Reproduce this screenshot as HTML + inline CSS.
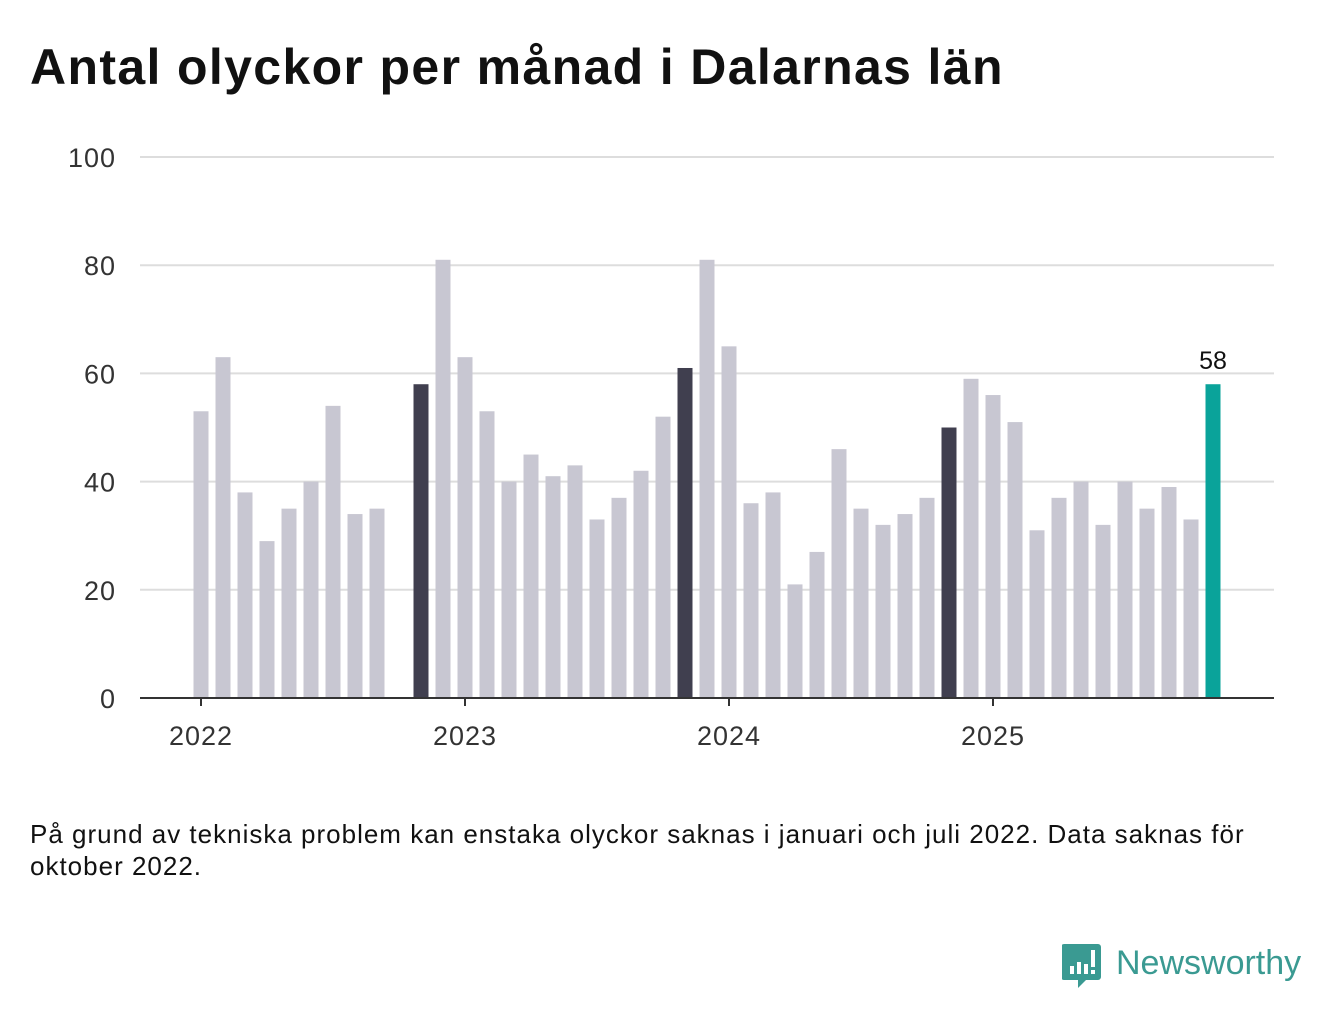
<!DOCTYPE html>
<html><head><meta charset="utf-8">
<style>
body{margin:0;background:#fff;width:1340px;height:1020px;overflow:hidden;font-family:"Liberation Sans",sans-serif;}
#title{position:absolute;left:30px;top:38px;font-size:50px;font-weight:bold;color:#111;letter-spacing:1.35px}
#note{position:absolute;left:30px;top:818px;font-size:26px;color:#111;line-height:32px;width:1215px;letter-spacing:1px}
#logo{position:absolute;left:1062px;top:942px}
</style></head><body>
<div id="title">Antal olyckor per månad i Dalarnas län</div>
<svg id="chart" width="1340" height="1020" style="position:absolute;left:0;top:0"></svg>
<div id="note">På grund av tekniska problem kan enstaka olyckor saknas i januari och juli 2022. Data saknas för oktober 2022.</div>
<svg id="logo" width="250" height="50">
<path d="M2 2 h34 a3 3 0 0 1 3 3 v30 a3 3 0 0 1 -3 3 h-12 l-8 8 v-8 h-14 a3 3 0 0 1 -3 -3 v-30 a3 3 0 0 1 3 -3z" fill="#3a9a92"/>
<rect x="8" y="24" width="4" height="8" fill="#fff"/><rect x="15" y="20" width="4" height="12" fill="#fff"/><rect x="22" y="22" width="4" height="10" fill="#fff"/><rect x="29" y="8" width="4" height="17" fill="#fff"/><rect x="29" y="28" width="4" height="4" fill="#fff"/>
<text x="54" y="32" font-size="34" fill="#3a9a92" font-family="Liberation Sans, sans-serif">Newsworthy</text>
</svg>
<script>
const months = ["2022-01","2022-02","2022-03","2022-04","2022-05","2022-06","2022-07","2022-08","2022-09","2022-10","2022-11","2022-12","2023-01","2023-02","2023-03","2023-04","2023-05","2023-06","2023-07","2023-08","2023-09","2023-10","2023-11","2023-12","2024-01","2024-02","2024-03","2024-04","2024-05","2024-06","2024-07","2024-08","2024-09","2024-10","2024-11","2024-12","2025-01","2025-02","2025-03","2025-04","2025-05","2025-06","2025-07","2025-08","2025-09","2025-10","2025-11"];
const values = [53,63,38,29,35,40,54,34,35,null,58,81,63,53,40,45,41,43,33,37,42,52,61,81,65,36,38,21,27,46,35,32,34,37,50,59,56,51,31,37,40,32,40,35,39,33,58];
const yTicks = [0,20,40,60,80,100];
const xTickLabels = ["2022","2023","2024","2025"];
const svg = document.getElementById('chart');
const NS = "http://www.w3.org/2000/svg";
const x0 = 201, step = 22, bw = 15;
const xScale = i => x0 + i*step;
const yScale = v => 698 - v*5.41;
function mk(tag, attrs){const e=document.createElementNS(NS,tag);for(const k in attrs)e.setAttribute(k,attrs[k]);svg.appendChild(e);return e;}
yTicks.forEach(t=>{
  if(t>0){const g=mk('line',{x1:140,x2:1274,y1:yScale(t),y2:yScale(t),stroke:'#dddddd','stroke-width':2});
  
  }
  const l=mk('text',{x:116,y:yScale(t)+10,'text-anchor':'end','font-size':27,'letter-spacing':1,fill:'#333'});
  
  
  l.textContent=t;
});
const last = values.length-1;
values.forEach((v,i)=>{
  if(v==null)return;
  let c='#c8c7d2';
  if(i===last)c='#0aa39a';else if(months[i].endsWith(months[last].slice(5)))c='#403f4f';
  const r=mk('rect',{x:xScale(i)-bw/2,y:yScale(v),width:bw,height:698-yScale(v),fill:c});
  
  
});
const vl=mk('text',{x:xScale(last),y:yScale(values[last])-15,'text-anchor':'middle','font-size':25,fill:'#111'});


vl.textContent=values[last];
const ax=mk('line',{x1:140,x2:1274,y1:698,y2:698,stroke:'#333','stroke-width':2});


xTickLabels.forEach((lab,k)=>{
  const xi=xScale(months.indexOf(lab+"-01"));
  const tk=mk('line',{x1:xi,x2:xi,y1:698,y2:706,stroke:'#333','stroke-width':2});
  
  
  const t=mk('text',{x:xi,y:745,'text-anchor':'middle','font-size':27,'letter-spacing':1,fill:'#333'});
  
  
  t.textContent=lab;
});
</script>
</body></html>
